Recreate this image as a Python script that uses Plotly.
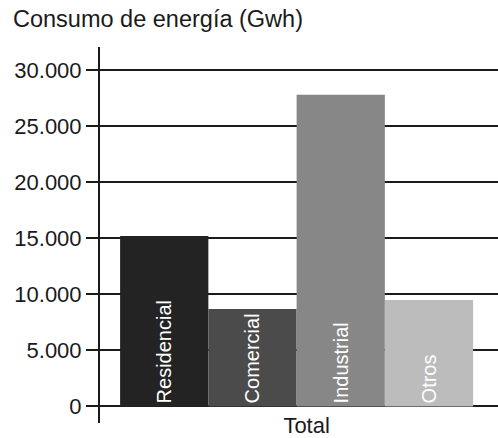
import plotly.graph_objects as go

title_text = "Consumo de energía (Gwh)"
group = ["Total"]
sectors = ["Residencial", "Comercial", "Industrial", "Otros"]
values = [15200, 8700, 27800, 9500]
colors = ["#232323", "#4b4b4b", "#878787", "#bcbcbc"]
y_ticks = [0, 5000, 10000, 15000, 20000, 25000, 30000]

FONT = "Liberation Sans, Arial, sans-serif"

fig = go.Figure()
for name, v, c in zip(sectors, values, colors):
    fig.add_trace(go.Bar(
        x=group, y=[v], name=name,
        marker=dict(color=c, line=dict(width=0)),
        text=[name], textposition="inside", textangle=-90,
        insidetextanchor="start",
        textfont=dict(family=FONT, size=20, color="white"),
        constraintext="none",
        hoverinfo="skip",
    ))

fig.update_layout(
    width=498, height=438,
    margin=dict(l=100, r=0, t=47, b=13),
    paper_bgcolor="white", plot_bgcolor="white",
    barmode="group", bargap=0.113, bargroupgap=0,
    showlegend=False,
    separators=",.",
    font=dict(family=FONT, color="#1a1a1a"),
    title=dict(text=title_text, font=dict(family=FONT, size=23.5, color="#1a1a1a"),
               xref="container", x=13/498, xanchor="left",
               yref="container", y=1 - 11/438, yanchor="top"),
)

fig.update_xaxes(
    type="category", range=[-0.494, 0.506],
    showline=False, showgrid=False, ticks="",
    tickfont=dict(family=FONT, size=22, color="#1a1a1a"),
    ticklabelstandoff=-13, ticklabelshift=10,
)
fig.update_yaxes(
    range=[-1480, 32070],
    tickvals=y_ticks, tickformat=",d",
    showline=True, linecolor="#1a1a1a", linewidth=2,
    showgrid=True, gridcolor="#1a1a1a", gridwidth=2,
    zeroline=True, zerolinecolor="#1a1a1a", zerolinewidth=2,
    ticks="outside", ticklen=12, tickwidth=2, tickcolor="#1a1a1a",
    tickfont=dict(family=FONT, size=22, color="#1a1a1a"),
)

fig.write_html("out.html")
